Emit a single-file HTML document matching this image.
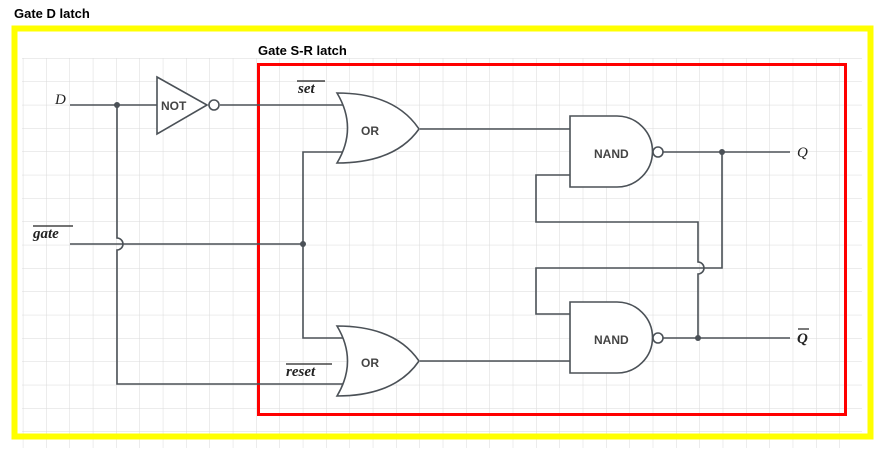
<!DOCTYPE html>
<html><head><meta charset="utf-8"><style>
body{margin:0;background:#fff;width:877px;height:450px;overflow:hidden}
svg{display:block}
.h{font-family:"Liberation Sans",sans-serif;font-weight:bold;font-size:13px;fill:#000}
.g{font-family:"Liberation Sans",sans-serif;font-weight:bold;font-size:12px;fill:#444}
.m{font-family:"Liberation Serif",serif;font-style:italic;font-size:15px;fill:#222}
.mb{font-family:"Liberation Serif",serif;font-style:italic;font-weight:bold;font-size:15px;fill:#222}
</style></head><body>
<svg width="877" height="450" viewBox="0 0 877 450">
<defs>
<pattern id="grid" x="0" y="12" width="23.33" height="23.33" patternUnits="userSpaceOnUse">
<path d="M23.33 0V23.33M0 23.33H23.33" stroke="#dadada" stroke-width="1" fill="none"/>
</pattern>
</defs>
<rect x="22" y="58" width="840" height="390" fill="url(#grid)"/>
<text class="h" x="14" y="18">Gate D latch</text>
<rect x="14.5" y="28.5" width="856" height="408" fill="none" stroke="#ffff00" stroke-width="6"/>
<text class="h" x="258" y="55">Gate S-R latch</text>
<rect x="258.5" y="64.5" width="587" height="350" fill="none" stroke="#ff0000" stroke-width="3"/>
<g stroke="#4b5157" stroke-width="1.6" fill="none">
<path d="M70 105H157"/>
<path d="M117 105V238 a6 6 0 0 1 0 12 V384H345"/>
<path d="M70 244H303"/>
<path d="M220 105H345"/>
<path d="M345 152H303V338H345"/>
<path d="M420 129H570"/>
<path d="M420 361H570"/>
<path d="M663 152H790"/>
<path d="M663 338H790"/>
<path d="M570 175H536V222H698V262 a6 6 0 0 1 0 12 V338"/>
<path d="M722 152V268H536V314H570"/>
<path d="M157 77L207 105L157 134Z" fill="#fff"/>
<circle cx="214" cy="105" r="5" fill="#fff"/>
<path d="M337 93Q358 128 337 163Q395 163 419 129Q395 93 337 93Z" fill="#fff"/>
<path d="M337 326Q358 361 337 396Q395 396 419 361Q395 326 337 326Z" fill="#fff"/>
<path d="M570 116H617A35.5 35.5 0 0 1 617 187H570Z" fill="#fff"/>
<circle cx="658" cy="152" r="5" fill="#fff"/>
<path d="M570 302H617A35.5 35.5 0 0 1 617 373H570Z" fill="#fff"/>
<circle cx="658" cy="338" r="5" fill="#fff"/>
</g>
<g fill="#4b5157">
<circle cx="117" cy="105" r="3"/>
<circle cx="303" cy="244" r="3"/>
<circle cx="722" cy="152" r="3"/>
<circle cx="698" cy="338" r="3"/>
</g>
<text class="g" x="161" y="110">NOT</text>
<text class="g" x="361" y="135">OR</text>
<text class="g" x="361" y="367">OR</text>
<text class="g" x="594" y="158">NAND</text>
<text class="g" x="594" y="344">NAND</text>
<text class="m" x="55" y="104">D</text>
<text class="mb" x="298" y="93">set</text><path d="M297 81H325" stroke="#222" stroke-width="1.2"/>
<text class="mb" x="33" y="238">gate</text><path d="M33 226H73" stroke="#222" stroke-width="1.2"/>
<text class="mb" x="286" y="376">reset</text><path d="M286 364H332" stroke="#222" stroke-width="1.2"/>
<text class="m" x="797" y="157">Q</text>
<text class="mb" x="797" y="343">Q</text><path d="M798 329H809" stroke="#222" stroke-width="1.2"/>
</svg>
</body></html>
